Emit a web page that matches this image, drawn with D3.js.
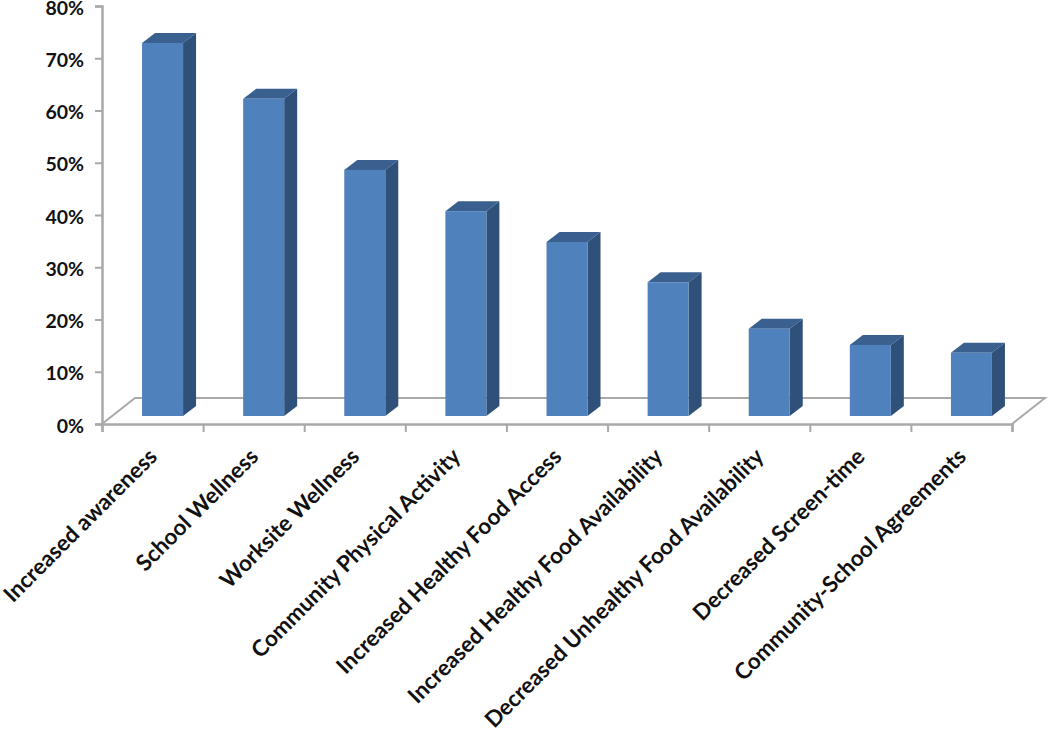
<!DOCTYPE html>
<html>
<head>
<meta charset="utf-8">
<script src="https://cdn.jsdelivr.net/npm/d3@7"></script>
<style>
  html, body { margin: 0; padding: 0; background: #fff; }
  svg { display: block; }
  text { font-family: Lato, "Open Sans", sans-serif; font-weight: 700; fill: #111; }
</style>
</head>
<body>
<div id="chart"></div>
<script>
/* 3D-look column chart, drawn with plain svg polygons */
const categories = [
  "Increased awareness", "School Wellness", "Worksite Wellness",
  "Community Physical Activity", "Increased Healthy Food Access",
  "Increased Healthy Food Availability", "Decreased Unhealthy Food Availability",
  "Decreased Screen-time", "Community-School Agreements"
];
const percents = [71.4, 60.7, 47.1, 39.2, 33.3, 25.6, 16.7, 13.6, 12.1];
const yTicks = [0, 10, 20, 30, 40, 50, 60, 70, 80];

const WIDTH = 1050, HEIGHT = 731;
const svg = d3.select("#chart").append("svg").attr("width", WIDTH).attr("height", HEIGHT);

const y = d3.scaleLinear().domain([0, 80]).range([424, 6]);
const x = d3.scaleBand().domain(categories).range([102, 1012]);
const tickX = d3.scaleLinear().domain([0, categories.length]).range([102, 1012]);

// Floor
const GRAY = "#a9a9a9";
const floorDx = 33, floorDy = 26;
svg.append("path")
  .attr("d", `M${x.range()[0]},${y(0)} l${floorDx},${-floorDy} H${x.range()[1] + floorDx} L${x.range()[1]},${y(0)}`)
  .attr("fill", "none").attr("stroke", GRAY).attr("stroke-width", 2);

// Axes
const yAxis = svg.append("g").attr("transform", "translate(102,0)")
  .call(d3.axisLeft(y).tickValues(yTicks).tickSize(7).tickPadding(11).tickFormat(d => d + "%"));
const xAxis = svg.append("g").attr("transform", `translate(0,${y(0)})`)
  .call(d3.axisBottom(tickX).ticks(categories.length).tickSize(8).tickFormat(""));
[yAxis, xAxis].forEach(a => {
  a.selectAll("path, line").attr("stroke", GRAY).attr("stroke-width", 2);
  a.select(".domain").attr("stroke-width", 2.5);
});
yAxis.selectAll("text").style("font-size", "19.5px").attr("dy", "0.42em");

// Bars: front face plus the top and side faces
const barW = 41, depthX = 13, depthY = 10, barShift = 10, floorLift = 8;
const bars = svg.selectAll("g.bar").data(categories).join("g")
  .attr("class", "bar")
  .attr("transform", d => `translate(${x(d) + x.bandwidth() / 2 - barW / 2 + barShift},${-floorLift})`);

const barTop = i => y(percents[i]);
bars.append("polygon")
  .attr("fill", "#3a6090")
  .attr("points", (d, i) => {
    const t = barTop(i);
    return `0,${t} ${depthX},${t - depthY} ${barW + depthX},${t - depthY} ${barW},${t}`;
  });
bars.append("polygon")
  .attr("fill", "#2f5079")
  .attr("points", (d, i) => {
    const t = barTop(i), b = y(0);
    return `${barW},${t} ${barW + depthX},${t - depthY} ${barW + depthX},${b - depthY} ${barW},${b}`;
  });
bars.append("rect")
  .attr("fill", "#4f81bd")
  .attr("width", barW)
  .attr("y", (d, i) => barTop(i))
  .attr("height", (d, i) => y(0) - barTop(i));

// Category labels
svg.selectAll("text.cat").data(categories).join("text")
  .attr("class", "cat")
  .attr("text-anchor", "end")
  .attr("font-size", 22.4)
  .attr("transform", d => `translate(${x(d) + x.bandwidth() / 2 + 6},${y(0) + 34}) rotate(-45)`)
  .text(d => d);
</script>
</body>
</html>
